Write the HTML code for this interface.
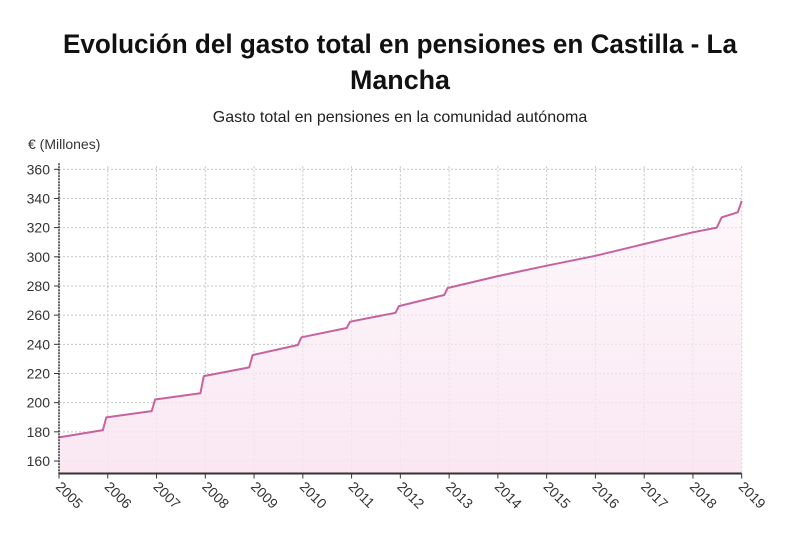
<!DOCTYPE html>
<html><head><meta charset="utf-8"><style>
body{margin:0;background:#fff;width:800px;height:539px;overflow:hidden;font-family:"Liberation Sans",sans-serif}
</style></head><body>
<svg width="800" height="539" viewBox="0 0 800 539">
<defs><linearGradient id="fillg" x1="0" y1="0" x2="0" y2="1"><stop offset="0" stop-color="#fbeef6" stop-opacity="0.5"/><stop offset="1" stop-color="#f9e4f0" stop-opacity="0.9"/></linearGradient></defs>
<text x="400" y="53" text-anchor="middle" font-size="27" font-weight="bold" fill="#111" textLength="674" lengthAdjust="spacingAndGlyphs">Evolución del gasto total en pensiones en Castilla - La</text>
<text x="400" y="89" text-anchor="middle" font-size="27" font-weight="bold" fill="#111" textLength="100" lengthAdjust="spacingAndGlyphs">Mancha</text>
<text x="400" y="122" text-anchor="middle" font-size="16" fill="#222">Gasto total en pensiones en la comunidad autónoma</text>
<text x="28" y="149" font-size="14" fill="#333">€ (Millones)</text>
<g id="grid"></g><g id="series"></g><g id="axes"></g>
</svg>
<script>
const yTicks=[160,180,200,220,240,260,280,300,320,340,360];
const xTicks=[2005,2006,2007,2008,2009,2010,2011,2012,2013,2014,2015,2016,2017,2018,2019];
const times=[2005.0,2005.9,2005.97,2006.9,2006.97,2007.9,2007.97,2008.9,2008.97,2009.9,2009.97,2010.9,2010.97,2011.9,2011.97,2012.9,2012.97,2014.0,2015.0,2016.0,2017.0,2018.0,2018.49,2018.59,2018.92,2019.0];
const values=[176.2,181.2,189.9,194.2,202.2,206.4,218.2,224.2,232.6,239.5,244.8,251.2,255.5,261.6,266.2,273.8,278.6,286.8,293.9,300.7,308.8,316.8,320.0,327.1,330.5,338.3];
const NS="http://www.w3.org/2000/svg";
const X0=59,X1=741.7,T0=2005,T1=2019,YB=461,YT=169.3,V0=160,V1=360,AXY=473.5;
const xs=t=>X0+(t-T0)/(T1-T0)*(X1-X0);
const ys=v=>YB-(v-V0)/(V1-V0)*(YB-YT);
function mk(tag,attrs,parent){const e=document.createElementNS(NS,tag);for(const k in attrs)e.setAttribute(k,attrs[k]);document.getElementById(parent).appendChild(e);return e;}
yTicks.forEach(v=>{
 const g=mk('line',{x1:X0,x2:X1,y1:ys(v),y2:ys(v),stroke:'#c4c4c4','stroke-dasharray':'2,2','stroke-width':1},'grid');
 
 
 const tk=mk('line',{x1:X0-5,x2:X0,y1:ys(v),y2:ys(v),stroke:'#333'},'axes');
 
 
 const t=mk('text',{x:X0-9,y:ys(v)+5,'text-anchor':'end','font-size':14,fill:'#333'},'axes');
 t.textContent=v;
 
 
});
xTicks.forEach(yr=>{
 const x=xs(yr);
 const g=mk('line',{x1:x,x2:x,y1:YT-3,y2:AXY,stroke:'#c4c4c4','stroke-dasharray':'2,2','stroke-width':1},'grid');
 
 
 const tk=mk('line',{x1:x,x2:x,y1:AXY,y2:AXY+5,stroke:'#333'},'axes');
 
 
 const t=mk('text',{x:x-4,y:AXY+14,'font-size':14,fill:'#333',transform:`rotate(45 ${x-4} ${AXY+14})`},'axes');
 t.textContent=yr;
 
 
});
let d='';times.forEach((t,i)=>{d+=(i?'L':'M')+xs(t).toFixed(1)+','+ys(values[i]).toFixed(1);});
const area=mk('path',{d:d+`L${xs(times[times.length-1])},${AXY}L${xs(times[0])},${AXY}Z`,fill:'url(#fillg)'},'series');


const line=mk('path',{d:d,fill:'none',stroke:'#c8629f','stroke-width':2,'stroke-linejoin':'round'},'series');


const ya=mk('line',{x1:X0,x2:X0,y1:YT-6,y2:AXY,stroke:'#333','stroke-width':1.5,'stroke-dasharray':'2,1'},'axes');


const xa=mk('line',{x1:X0,x2:X1,y1:AXY,y2:AXY,stroke:'#333','stroke-width':2},'axes');


</script>
</body></html>
